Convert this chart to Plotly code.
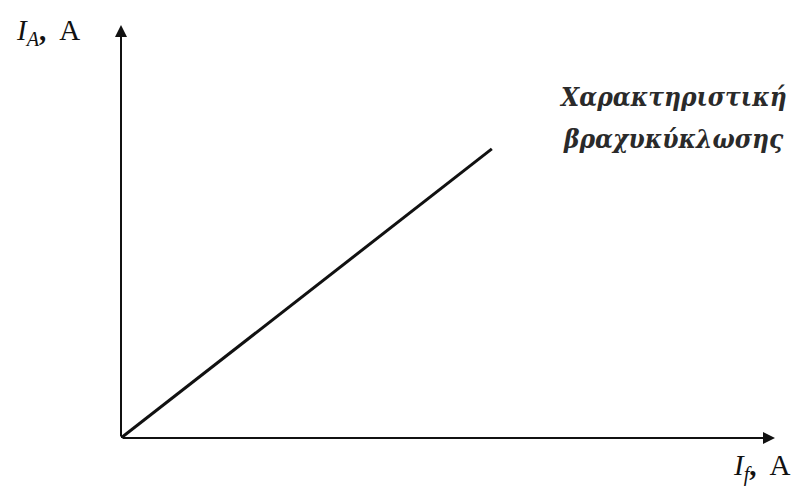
import plotly.graph_objects as go

# Short-circuit characteristic: armature current vs field current (linear)
field_current = [0.0, 5.67]
armature_current = [0.0, 7.0]

x_max = 10.0
y_max = 10.0

curve_label = ["Χαρακτηριστική", "βραχυκύκλωσης"]

ink = "#111111"
serif = "Liberation Serif, Times New Roman, serif"
greek_serif = "DejaVu Serif Condensed, DejaVu Serif, serif"

W, H = 800, 490
ML, MR, MT, MB = 121, 25, 25, 52
PW, PH = W - ML - MR, H - MT - MB


def px(x):
    return (x - ML) / PW


def py(y):
    return (H - MB - y) / PH


fig = go.Figure()

fig.add_trace(go.Scatter(
    x=field_current, y=armature_current,
    mode="lines",
    line=dict(color=ink, width=3),
    hoverinfo="skip",
    showlegend=False,
))

# Axes drawn as arrows from the origin
fig.add_annotation(x=x_max, y=0, ax=0, ay=0, xref="x", yref="y",
                   axref="x", ayref="y", showarrow=True, arrowhead=2,
                   arrowsize=1.2, arrowwidth=2, arrowcolor=ink, text="")
fig.add_annotation(x=0, y=y_max, ax=0, ay=0, xref="x", yref="y",
                   axref="x", ayref="y", showarrow=True, arrowhead=2,
                   arrowsize=1.2, arrowwidth=2, arrowcolor=ink, text="")

# Axis labels
fig.add_annotation(x=px(14), y=py(32), xref="paper", yref="paper",
                   text="<i>I</i><sub><i>A</i></sub><b>,</b>\u00a0 A", showarrow=False,
                   xanchor="left", yanchor="middle",
                   font=dict(family=serif, size=29, color=ink))
fig.add_annotation(x=px(731), y=py(467), xref="paper", yref="paper",
                   text="<i>I</i><sub><i>f</i></sub><b>,</b>\u00a0 A", showarrow=False,
                   xanchor="left", yanchor="middle",
                   font=dict(family=serif, size=29, color=ink))

# Curve label, one annotation per line for wider line spacing
for line_text, y_pix in zip(curve_label, [97, 139]):
    fig.add_annotation(x=px(673), y=py(y_pix), xref="paper", yref="paper",
                       text=f"<b><i>{line_text}</i></b>",
                       showarrow=False, xanchor="center", yanchor="middle",
                       font=dict(family=greek_serif, size=26, color="#2a2a2a"))

fig.update_layout(
    width=W, height=H,
    margin=dict(l=ML, r=MR, t=MT, b=MB, pad=0),
    paper_bgcolor="white", plot_bgcolor="white",
    xaxis=dict(range=[0, x_max], visible=False, fixedrange=True),
    yaxis=dict(range=[0, y_max], visible=False, fixedrange=True),
)

fig.write_html("out.html")
